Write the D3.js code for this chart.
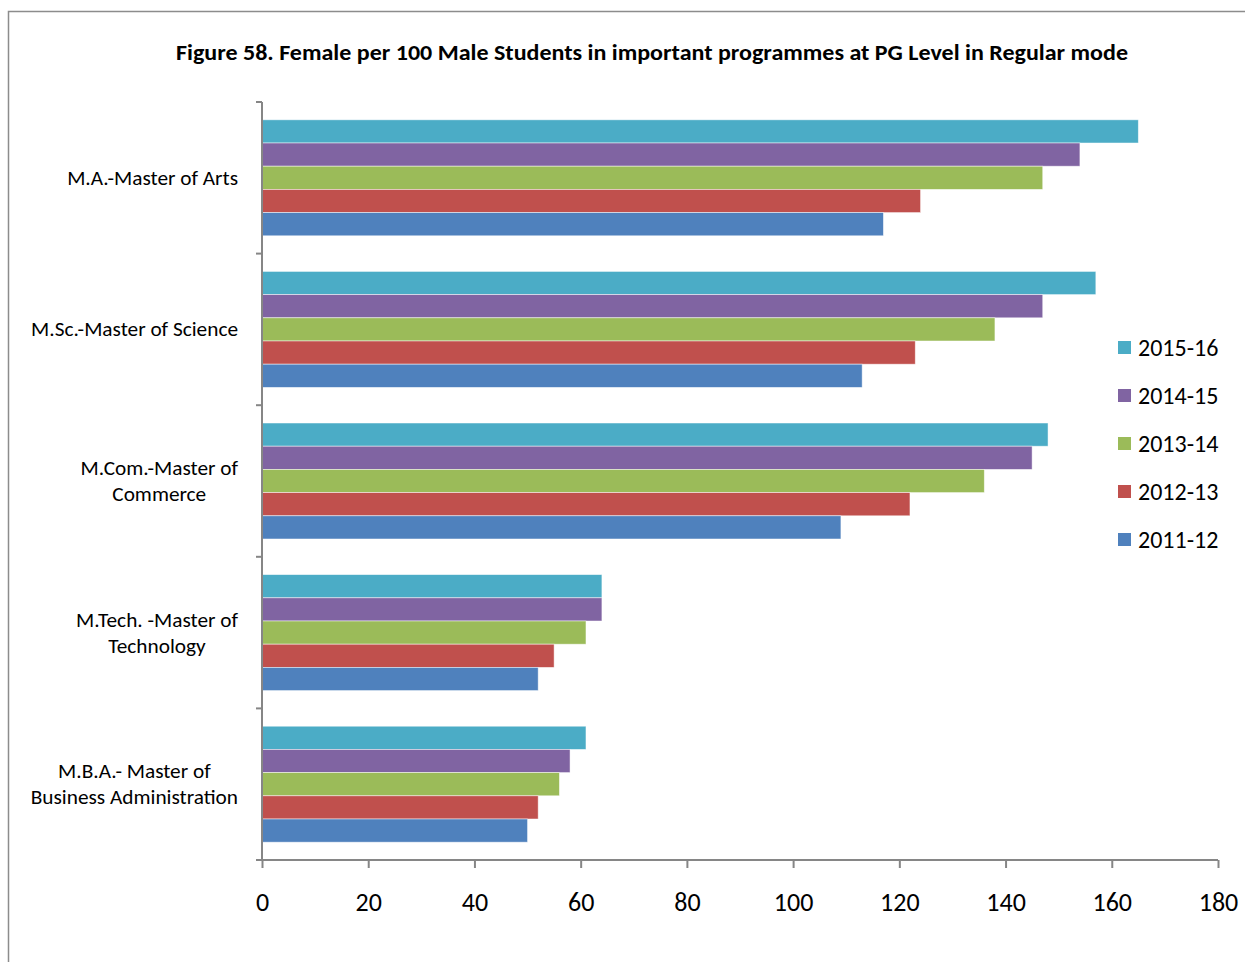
<!DOCTYPE html>
<html><head><meta charset="utf-8">
<script src="https://cdn.jsdelivr.net/npm/d3@7"></script>
<style>body{margin:0;background:#fff}svg{display:block}text{font-family:Carlito,Lato,"Open Sans",sans-serif;fill:#000}</style>
</head><body>
<svg id="c" width="1245" height="962"></svg>
<script>
const categories = ["M.A.-Master of Arts","M.Sc.-Master of Science","M.Com.-Master of Commerce","M.Tech. -Master of Technology","M.B.A.- Master of Business Administration"];
const categoryLines = [["M.A.-Master of Arts"],["M.Sc.-Master of Science"],["M.Com.-Master of","Commerce"],["M.Tech. -Master of","Technology"],["M.B.A.- Master of","Business Administration"]];
const seriesNames = ["2015-16","2014-15","2013-14","2012-13","2011-12"];
const s2015_16 = [165,157,148,64,61];
const s2014_15 = [154,147,145,64,58];
const s2013_14 = [147,138,136,61,56];
const s2012_13 = [124,123,122,55,52];
const s2011_12 = [117,113,109,52,50];
const seriesValues = [s2015_16,s2014_15,s2013_14,s2012_13,s2011_12];
const colors = ["#4BACC6","#8064A2","#9BBB59","#C0504D","#4F81BD"];
const xTicks = [0,20,40,60,80,100,120,140,160,180];
const title = "Figure 58. Female per 100 Male Students in important programmes at PG Level in Regular mode";

const svg = d3.select("#c");
svg.append("rect").attr("x",8.5).attr("y",11.5).attr("width",1300).attr("height",1000).attr("fill","none").attr("stroke","#8c8c8c").attr("stroke-width",1.5);

svg.append("text").attr("x",652).attr("y",60).attr("text-anchor","middle").attr("font-weight","bold").attr("font-size",21.5)
  .attr("textLength",952).attr("lengthAdjust","spacingAndGlyphs").text(title);

const x = d3.scaleLinear().domain([0,180]).range([262,1218]);
const y = d3.scaleBand().domain(categories).range([102,860]).paddingInner(0.235).paddingOuter(0.1175);
const yi = d3.scaleBand().domain(seriesNames).range([0,y.bandwidth()]);

const g = svg.append("g");
categories.forEach((c,ci)=>{
  seriesNames.forEach((s,si)=>{
    g.append("rect").attr("x",x(0)).attr("y",y(c)+yi(s)).attr("width",x(seriesValues[si][ci])-x(0)).attr("height",yi.bandwidth())
      .attr("fill",colors[si]).attr("stroke","rgba(255,255,255,0.6)").attr("stroke-width",0.8);
  });
});

// x axis
const xa = svg.append("g").attr("transform","translate(0,860)").call(d3.axisBottom(x).tickValues(xTicks).tickSize(8).tickPadding(25).tickSizeOuter(0));
xa.select(".domain").attr("stroke","#868686").attr("stroke-width",2).attr("d","M256,0H1218");
xa.selectAll(".tick line").attr("stroke","#868686").attr("stroke-width",2);
xa.selectAll(".tick text").attr("font-size",26).attr("font-family","Carlito,Lato,'Open Sans',sans-serif").attr("fill","#000");

// y axis line + ticks at band boundaries
const step = y.step();
const bounds = d3.range(categories.length+1).map(i=>102+i*step);
svg.append("line").attr("x1",262).attr("x2",262).attr("y1",102).attr("y2",860).attr("stroke","#868686").attr("stroke-width",2);
svg.selectAll(".yt").data(bounds).enter().append("line").attr("x1",256).attr("x2",262).attr("y1",d=>d).attr("y2",d=>d).attr("stroke","#868686").attr("stroke-width",2);

// category labels
categories.forEach((c,ci)=>{
  const lines = categoryLines[ci];
  const cy = y(c)+y.bandwidth()/2;
  const t = svg.append("g");
  const texts = lines.map((l,li)=> t.append("text").attr("font-size",21.3).attr("text-anchor","middle")
    .attr("y", cy + (li-(lines.length-1)/2)*26 + 7).text(l));
  const maxW = d3.max(texts, tx=>tx.node().getComputedTextLength());
  texts.forEach(tx=>tx.attr("x",238-maxW/2));
});

// legend
seriesNames.forEach((s,si)=>{
  const ly = 348 + si*48;
  svg.append("rect").attr("x",1118).attr("y",ly-7).attr("width",13).attr("height",13).attr("fill",colors[si]);
  svg.append("text").attr("x",1138).attr("y",ly+8).attr("font-size",24).text(s);
});
</script>
</body></html>
